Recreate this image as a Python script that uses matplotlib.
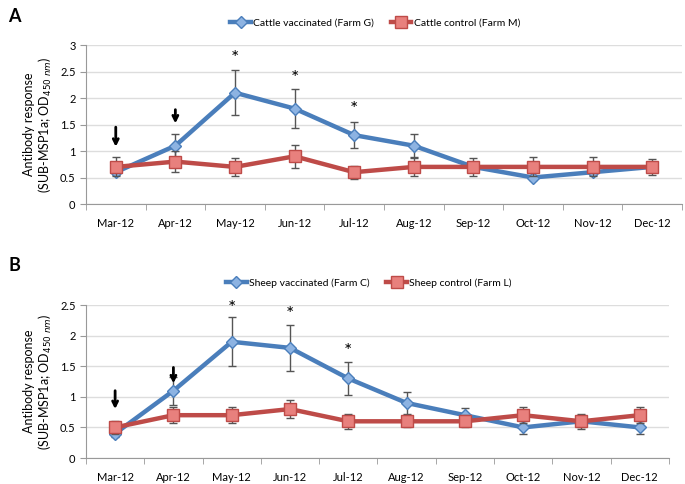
import matplotlib.pyplot as plt
import numpy as np

plt.rcParams['font.family'] = ['Lato', 'DejaVu Sans']

months = ['Mar-12', 'Apr-12', 'May-12', 'Jun-12', 'Jul-12',
          'Aug-12', 'Sep-12', 'Oct-12', 'Nov-12', 'Dec-12']

# panel A - cattle
cattle_vac = [0.6, 1.1, 2.1, 1.8, 1.3, 1.1, 0.7, 0.5, 0.6, 0.7]
cattle_vac_err = [0.05, 0.22, 0.42, 0.37, 0.25, 0.22, 0.1, 0.05, 0.05, 0.1]
cattle_ctl = [0.7, 0.8, 0.7, 0.9, 0.6, 0.7, 0.7, 0.7, 0.7, 0.7]
cattle_ctl_err = [0.18, 0.2, 0.17, 0.22, 0.12, 0.17, 0.17, 0.18, 0.18, 0.15]
cattle_stars = [(2, 2.75), (3, 2.37), (4, 1.78)]
cattle_arrows = [(0, 1.45, 1.08), (1, 1.78, 1.52)]

# panel B - sheep
sheep_vac = [0.4, 1.1, 1.9, 1.8, 1.3, 0.9, 0.7, 0.5, 0.6, 0.5]
sheep_vac_err = [0.05, 0.23, 0.4, 0.38, 0.27, 0.18, 0.12, 0.1, 0.12, 0.1]
sheep_ctl = [0.5, 0.7, 0.7, 0.8, 0.6, 0.6, 0.6, 0.7, 0.6, 0.7]
sheep_ctl_err = [0.1, 0.13, 0.13, 0.15, 0.12, 0.1, 0.1, 0.13, 0.1, 0.13]
sheep_stars = [(2, 2.45), (3, 2.34), (4, 1.74)]
sheep_arrows = [(0, 1.1, 0.8), (1, 1.48, 1.22)]

blue, blue_m = '#4a7ebb', '#8db3e2'
red, red_m = '#be4b48', '#e8807d'


def panel(ax, vac, vac_err, ctl, ctl_err, stars, arrows, ymax, labels):
    x = np.arange(len(months))
    e1 = ax.errorbar(x, vac, yerr=vac_err, color=blue, lw=3.2, marker='D', ms=6,
                     mfc=blue_m, mec=blue, mew=1, ecolor='#555555', elinewidth=1,
                     capsize=3, zorder=3)
    e2 = ax.errorbar(x, ctl, yerr=ctl_err, color=red, lw=3.2, marker='s', ms=9,
                     mfc=red_m, mec=red, mew=1, ecolor='#555555', elinewidth=1,
                     capsize=3, zorder=4)
    for i, y in stars:
        ax.text(i, y, '*', ha='center', va='center', fontsize=14)
    for i, y0, y1 in arrows:
        ax.annotate('', xy=(i, y1), xytext=(i, y0),
                    arrowprops=dict(arrowstyle='->', lw=2, color='black',
                                    mutation_scale=9, shrinkA=0, shrinkB=0))
    ax.set_xlim(-0.5, 9.5)
    ax.set_ylim(0, ymax)
    ax.set_yticks(np.arange(0, ymax + 0.01, 0.5))
    ax.set_yticklabels(['0'] + ['%g' % v for v in np.arange(0.5, ymax + 0.01, 0.5)])
    ax.set_xticks(x)
    ax.set_xticklabels(months)
    ax.set_xticks(np.arange(-0.5, 10, 1), minor=True)
    ax.tick_params(axis='x', which='major', length=0, pad=10, labelsize=8)
    ax.tick_params(axis='x', which='minor', length=4, color='#999999')
    ax.tick_params(axis='y', length=4, color='#999999', labelsize=8)
    ax.grid(axis='y', color='#dddddd', lw=1)
    ax.set_axisbelow(True)
    for s in ['top', 'right']:
        ax.spines[s].set_visible(False)
    for s in ['left', 'bottom']:
        ax.spines[s].set_color('#999999')
    ax.set_ylabel('Antibody response\n(SUB-MSP1a; OD$_{450\\ nm}$)', fontsize=9)
    ax.legend([e1.lines[0], e2.lines[0]], labels,
              loc='lower center', bbox_to_anchor=(0.485, 1.05), ncol=2,
              frameon=False, fontsize=7.5, handlelength=2, handletextpad=0.2,
              columnspacing=1.6)


fig = plt.figure(figsize=(6.85, 4.84), dpi=100)
ax1 = fig.add_axes([0.1255, 0.5785, 0.870, 0.3285])
ax2 = fig.add_axes([0.1255, 0.0537, 0.851, 0.316])

panel(ax1, cattle_vac, cattle_vac_err, cattle_ctl, cattle_ctl_err,
      cattle_stars, cattle_arrows, 3,
      ['Cattle vaccinated (Farm G)', 'Cattle control (Farm M)'])
panel(ax2, sheep_vac, sheep_vac_err, sheep_ctl, sheep_ctl_err,
      sheep_stars, sheep_arrows, 2.5,
      ['Sheep vaccinated (Farm C)', 'Sheep control (Farm L)'])

fig.text(0.012, 0.965, 'A', fontsize=13, fontweight='bold', va='center')
fig.text(0.012, 0.452, 'B', fontsize=13, fontweight='bold', va='center')

fig.savefig('out.png', dpi=100)
